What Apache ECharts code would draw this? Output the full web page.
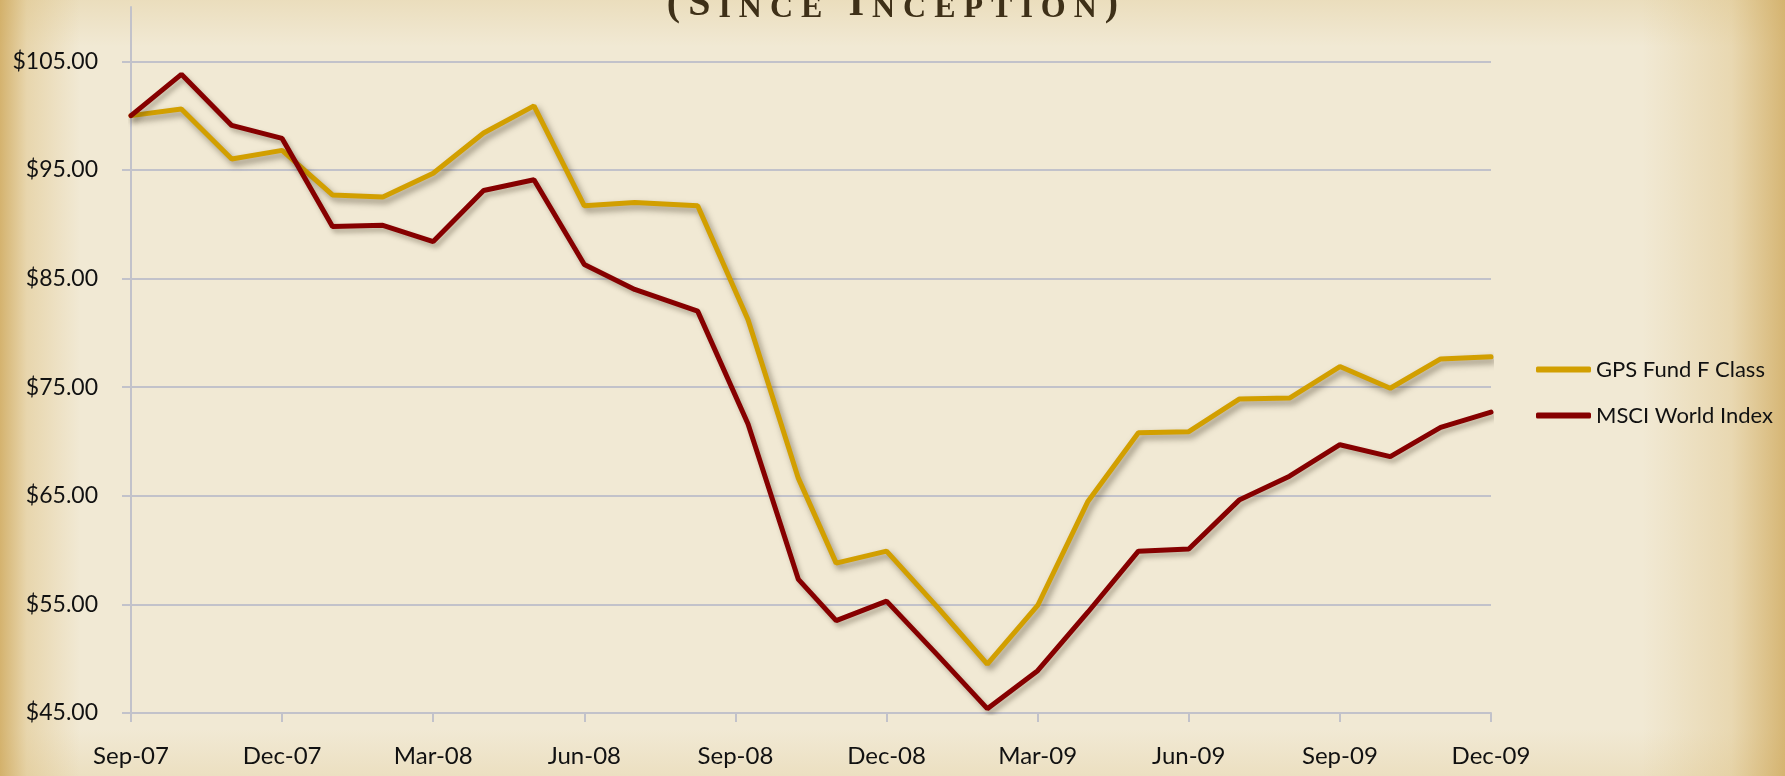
<!DOCTYPE html>
<html>
<head>
<meta charset="utf-8">
<title>GPS Fund F Class vs MSCI World Index</title>
<script src="https://cdn.jsdelivr.net/npm/echarts@6/dist/echarts.min.js"></script>
<style>
    html, body { margin: 0; padding: 0; }
    #main {
        width: 1785px;
        height: 776px;
        background:
            linear-gradient(to right, rgba(205,165,85,0.8) 0%, rgba(220,190,125,0.45) 1.5%, rgba(235,220,185,0) 4.5%, rgba(235,220,185,0) 92%, rgba(220,190,125,0.4) 97%, rgba(205,165,85,0.75) 100%),
            linear-gradient(to bottom, rgba(220,195,135,0.3) 0%, rgba(0,0,0,0) 6%, rgba(0,0,0,0) 94%, rgba(220,195,135,0.25) 100%),
            #F1E9D4;
    }
</style>
</head>
<body>
<div id="main"></div>
<script>
    // monthly values, indexed to 100 at inception
    var months = ['Sep-07', 'Oct-07', 'Nov-07', 'Dec-07', 'Jan-08', 'Feb-08', 'Mar-08', 'Apr-08',
        'May-08', 'Jun-08', 'Jul-08', 'Aug-08', 'Sep-08', 'Oct-08', 'Nov-08', 'Dec-08',
        'Jan-09', 'Feb-09', 'Mar-09', 'Apr-09', 'May-09', 'Jun-09', 'Jul-09', 'Aug-09',
        'Sep-09', 'Oct-09', 'Nov-09', 'Dec-09'];
    // position of each point in months since Sep-07 (Aug-Oct 08 sit a week later)
    var monthPos = [0, 1, 2, 3, 4, 5, 6, 7, 8, 9, 10, 11.25, 12.25, 13.25, 14, 15,
        16, 17, 18, 19, 20, 21, 22, 23, 24, 25, 26, 27];
    var tickLabels = ['Sep-07', 'Dec-07', 'Mar-08', 'Jun-08', 'Sep-08', 'Dec-08', 'Mar-09', 'Jun-09', 'Sep-09', 'Dec-09'];
    var gpsFund = [100.0, 100.6, 96.0, 96.8, 92.7, 92.5, 94.7, 98.4, 100.9, 91.7, 92.0, 91.7,
        81.2, 66.6, 58.8, 59.9, 54.8, 49.5, 54.9, 64.5, 70.8, 70.9, 73.9, 74.0,
        76.9, 74.9, 77.6, 77.8];
    var msciWorld = [100.0, 103.8, 99.1, 97.9, 89.8, 89.9, 88.4, 93.1, 94.1, 86.3, 84.0, 82.0,
        71.6, 57.3, 53.5, 55.3, 50.4, 45.4, 48.9, 54.3, 59.9, 60.1, 64.6, 66.8,
        69.7, 68.6, 71.3, 72.7];

    var titleText = '(SINCE INCEPTION)';

    function pairs(vals) {
        return vals.map(function (v, i) { return [monthPos[i], v]; });
    }

    // small caps title: first letter of each word and brackets larger
    var titleRich = titleText.split('').map(function (ch, i) {
        var big = ch === '(' || ch === ')' || ch === ' ' || i === 1 || titleText[i - 1] === ' ';
        return '{' + (big ? 'b' : 's') + '|' + ch + '}';
    }).join('');

    var gridColor = '#C2C2CA';
    var font = 'Lato';

    var myChart = echarts.init(document.getElementById('main'));

    var option = {
        animation: false,
        title: {
            text: titleRich,
            left: 'center',
            top: -15,
            padding: 0,
            textStyle: {
                rich: {
                    b: { fontFamily: 'Liberation Serif', fontSize: 40, color: '#3e3018', padding: [0, 4], verticalAlign: 'bottom' },
                    s: { fontFamily: 'Liberation Serif', fontSize: 32, color: '#3e3018', padding: [0, 4], verticalAlign: 'bottom' }
                }
            }
        },
        legend: {
            orient: 'vertical',
            left: 1531,
            top: 352,
            itemWidth: 55,
            itemHeight: 6,
            itemGap: 21,
            icon: 'roundRect',
            textStyle: { fontFamily: font, fontSize: 22, color: '#111', lineHeight: 25 },
            data: ['GPS Fund F Class', 'MSCI World Index']
        },
        grid: {
            left: 131,
            right: 294,
            top: 7,
            bottom: 63,
            outerBoundsMode: 'none'
        },
        xAxis: {
            type: 'value',
            min: 0,
            max: 27,
            interval: 3,
            axisLine: { lineStyle: { color: gridColor, width: 2 } },
            axisTick: { show: true, length: 9, lineStyle: { color: gridColor, width: 2 } },
            splitLine: { show: false },
            axisLabel: {
                margin: 31,
                fontFamily: font,
                fontSize: 24,
                color: '#111',
                formatter: function (v) { return tickLabels[Math.round(v / 3)]; }
            }
        },
        yAxis: {
            type: 'value',
            min: 45,
            max: 110,
            interval: 10,
            axisLine: { show: true, lineStyle: { color: gridColor, width: 2 } },
            axisTick: { show: true, length: 9, lineStyle: { color: gridColor, width: 2 } },
            splitLine: { show: true, showMaxLine: false, lineStyle: { color: gridColor, width: 2 } },
            axisLabel: {
                showMaxLabel: false,
                margin: 33,
                fontFamily: font,
                fontSize: 23,
                color: '#111',
                formatter: function (v) { return '$' + v.toFixed(2); }
            }
        },
        series: [{
            name: 'GPS Fund F Class',
            type: 'line',
            data: pairs(gpsFund),
            symbol: 'none',
            color: '#D29F00',
            lineStyle: {
                width: 5, color: '#D29F00', cap: 'round',
                shadowColor: 'rgba(60,50,30,0.5)', shadowBlur: 6, shadowOffsetX: 3, shadowOffsetY: 4
            }
        }, {
            name: 'MSCI World Index',
            type: 'line',
            data: pairs(msciWorld),
            symbol: 'none',
            color: '#860000',
            lineStyle: {
                width: 5, color: '#860000', cap: 'round',
                shadowColor: 'rgba(60,50,30,0.35)', shadowBlur: 5, shadowOffsetX: 3, shadowOffsetY: 4
            }
        }]
    };

    myChart.setOption(option);
</script>
</body>
</html>
